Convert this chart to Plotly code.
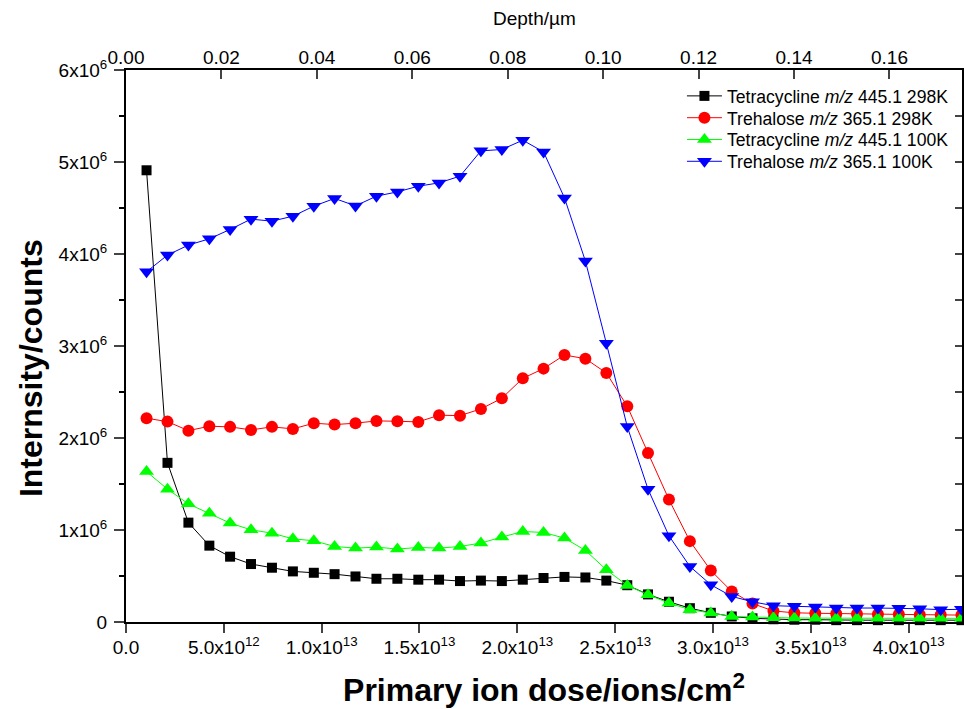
import plotly.graph_objects as go

# Primary ion dose (units of 1e12 ions/cm^2)
dose_e12 = [1.05, 2.12, 3.19, 4.26, 5.32, 6.39, 7.46, 8.53, 9.60, 10.66,
            11.73, 12.80, 13.87, 14.94, 16.00, 17.07, 18.14, 19.21, 20.28, 21.34,
            22.41, 23.48, 24.55, 25.62, 26.68, 27.75, 28.82, 29.89, 30.96, 32.02,
            33.09, 34.16, 35.23, 36.30, 37.36, 38.43, 39.50, 40.57, 41.64, 42.70]

# Intensities (units of 1e6 counts)
tetra_298 = [4.91, 1.73, 1.08, 0.83, 0.71, 0.63, 0.59, 0.55, 0.535, 0.52,
             0.495, 0.47, 0.47, 0.46, 0.46, 0.445, 0.45, 0.445, 0.46, 0.478,
             0.49, 0.484, 0.45, 0.40, 0.30, 0.22, 0.15, 0.10, 0.06, 0.04,
             0.03, 0.025, 0.025, 0.02, 0.02, 0.02, 0.02, 0.02, 0.02, 0.02]

treh_298 = [2.215, 2.178, 2.08, 2.128, 2.121, 2.088, 2.121, 2.099, 2.161, 2.146,
            2.161, 2.186, 2.182, 2.175, 2.248, 2.243, 2.316, 2.432, 2.649, 2.754,
            2.902, 2.862, 2.707, 2.345, 1.838, 1.331, 0.879, 0.56, 0.332, 0.20,
            0.12, 0.10, 0.095, 0.09, 0.088, 0.085, 0.083, 0.08, 0.078, 0.075]

tetra_100 = [1.635, 1.444, 1.284, 1.183, 1.075, 1.002, 0.966, 0.904, 0.883, 0.821,
             0.803, 0.814, 0.793, 0.81, 0.803, 0.821, 0.858, 0.923, 0.984, 0.973,
             0.912, 0.778, 0.568, 0.397, 0.296, 0.206, 0.134, 0.098, 0.061, 0.054,
             0.045, 0.043, 0.042, 0.04, 0.04, 0.04, 0.04, 0.04, 0.04, 0.04]

treh_100 = [3.807, 3.988, 4.097, 4.165, 4.267, 4.379, 4.357, 4.411, 4.52, 4.604,
            4.523, 4.629, 4.675, 4.737, 4.773, 4.846, 5.121, 5.136, 5.237, 5.11,
            4.61, 3.923, 3.03, 2.124, 1.444, 0.937, 0.604, 0.405, 0.278, 0.22,
            0.177, 0.17, 0.163, 0.152, 0.152, 0.152, 0.15, 0.144, 0.134, 0.138]

series_names = ["Tetracycline <i>m/z</i> 445.1 298K",
                "Trehalose <i>m/z</i> 365.1 298K",
                "Tetracycline <i>m/z</i> 445.1 100K",
                "Trehalose <i>m/z</i> 365.1 100K"]

x_tickvals_e12 = [0, 5, 10, 15, 20, 25, 30, 35, 40]
x_ticktext = ["0.0", "5.0x10<sup>12</sup>", "1.0x10<sup>13</sup>", "1.5x10<sup>13</sup>",
              "2.0x10<sup>13</sup>", "2.5x10<sup>13</sup>", "3.0x10<sup>13</sup>",
              "3.5x10<sup>13</sup>", "4.0x10<sup>13</sup>"]
y_tickvals_e6 = [0, 1, 2, 3, 4, 5, 6]
y_ticktext = ["0", "1x10<sup>6</sup>", "2x10<sup>6</sup>", "3x10<sup>6</sup>",
              "4x10<sup>6</sup>", "5x10<sup>6</sup>", "6x10<sup>6</sup>"]

FONT = "Liberation Sans, Arial, sans-serif"

x = [v * 1e12 for v in dose_e12]
styles = [("#000000", "square", 10),
          ("#FF0000", "circle", 12),
          ("#00FF00", "triangle-up", 13),
          ("#0000FF", "triangle-down", 13)]
data = [tetra_298, treh_298, tetra_100, treh_100]
legend_ids = ["legend", "legend2", "legend3", "legend4"]
legend_y = [0.9530, 0.9135, 0.8740, 0.8345]

fig = go.Figure()
for name, vals, (col, sym, sz), lid in zip(series_names, data, styles, legend_ids):
    fig.add_trace(go.Scatter(
        x=x, y=[v * 1e6 for v in vals], name=name, mode="lines+markers",
        line=dict(color=col, width=1),
        marker=dict(symbol=sym, size=sz, color=col, line=dict(width=0)),
        cliponaxis=False, legend=lid,
    ))

# helper trace so the top and right axes are drawn
fig.add_trace(go.Scatter(x=[None], y=[None], xaxis="x2", yaxis="y2",
                         showlegend=False, hoverinfo="skip"))

legend_common = dict(x=0.665, xanchor="left", yanchor="middle",
                     bgcolor="rgba(0,0,0,0)", font=dict(size=17.6), itemwidth=35)

fig.update_layout(
    width=964, height=709,
    margin=dict(l=126, r=2, t=70, b=87),
    paper_bgcolor="white", plot_bgcolor="white",
    font=dict(family=FONT, size=19, color="black"),
    showlegend=True,
    legend=dict(y=legend_y[0], **legend_common),
    legend2=dict(y=legend_y[1], **legend_common),
    legend3=dict(y=legend_y[2], **legend_common),
    legend4=dict(y=legend_y[3], **legend_common),
    xaxis=dict(range=[0, 4.2728e13], tickvals=[v * 1e12 for v in x_tickvals_e12],
               ticktext=x_ticktext, ticks="outside", ticklen=9, tickwidth=2,
               ticklabelstandoff=-2,
               showline=True, linewidth=2, linecolor="black", showgrid=False,
               zeroline=False,
               title=dict(text="<b>Primary ion dose/ions/cm<sup>2</sup></b>",
                          font=dict(size=32), standoff=22)),
    yaxis=dict(range=[0, 6e6], tickvals=[v * 1e6 for v in y_tickvals_e6],
               ticktext=y_ticktext, ticks="outside", ticklen=10, tickwidth=2,
               ticklabelstandoff=3,
               minor=dict(dtick=5e5, ticks="outside", ticklen=5, tickwidth=2,
                          tickcolor="black", showgrid=False),
               showline=True, linewidth=2, linecolor="black", showgrid=False,
               zeroline=False),
    xaxis2=dict(overlaying="x", side="top", range=[0, 0.1752], dtick=0.02, tick0=0,
                tickformat=".2f", ticks="inside", ticklen=9, tickwidth=2,
                ticklabelstandoff=-4,
                showline=True, linewidth=2, linecolor="black", showgrid=False,
                zeroline=False),
    yaxis2=dict(overlaying="y", side="right", range=[0, 6e6], dtick=5e5, tick0=0,
                ticks="inside", ticklen=7, tickwidth=2, showticklabels=False,
                showline=True, linewidth=2, linecolor="black", showgrid=False,
                zeroline=False),
    annotations=[
        dict(text="<b>Internsity/counts</b>", textangle=-90, xref="paper", yref="paper",
             x=-0.1136, y=0.46, xanchor="center", yanchor="middle", showarrow=False,
             font=dict(size=32)),
        dict(text="Depth/µm", xref="paper", yref="paper", x=0.489, y=1.094,
             xanchor="center", yanchor="middle", showarrow=False, font=dict(size=19)),
    ],
)

fig.write_html("out.html", config={"displayModeBar": False},
               post_script="document.body.style.margin='0px';"
                           "document.body.style.overflow='hidden';")
